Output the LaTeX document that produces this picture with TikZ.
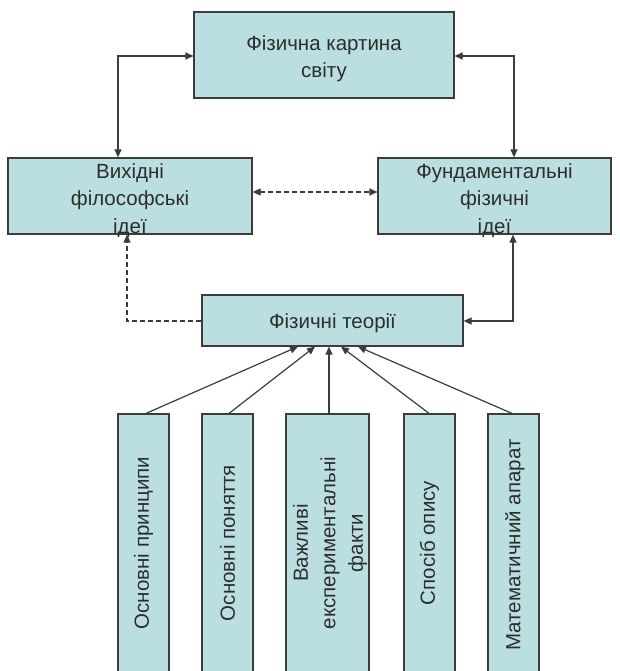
\documentclass[tikz,border=0pt]{standalone}
\usepackage{fontspec}
\setmainfont{Liberation Sans}
\usetikzlibrary{arrows.meta}
\definecolor{boxfill}{RGB}{187,223,225}
\definecolor{boxline}{RGB}{60,60,60}
\definecolor{txt}{RGB}{45,45,45}
\tikzset{
  box/.style={draw=boxline, fill=boxfill, line width=1.2pt, inner sep=0pt, anchor=center},
  lbl/.style={align=center, text=txt, font=\fontsize{20.5}{27.5}\selectfont, inner sep=0pt, anchor=center},
  conn/.style={draw=boxline, line width=1.2pt, arrows={-Triangle[length=8pt,width=7pt]}},
  conn2/.style={draw=boxline, line width=1.2pt, arrows={Triangle[length=8pt,width=7pt]-Triangle[length=8pt,width=7pt]}},
  dsh/.style={dash pattern=on 5pt off 3pt}
}
\begin{document}
\begin{tikzpicture}[x=1pt,y=-1pt]
\useasboundingbox (0,0) rectangle (619,671);
\clip (0,0) rectangle (619,671);
\node[box, minimum width=260pt, minimum height=86pt] (top) at (324,55) {};
\node[box, minimum width=244pt, minimum height=76pt] (lb) at (130,196) {};
\node[box, minimum width=233pt, minimum height=76pt] (rb) at (494.5,196) {};
\node[box, minimum width=261pt, minimum height=51pt] (mid) at (332.5,320.5) {};
\node[box, minimum width=51pt, minimum height=258pt] (b1) at (143.5,543) {};
\node[box, minimum width=51pt, minimum height=258pt] (b2) at (227.5,543) {};
\node[box, minimum width=83pt, minimum height=258pt] (b3) at (327.5,543) {};
\node[box, minimum width=51pt, minimum height=258pt] (b4) at (429.5,543) {};
\node[box, minimum width=51pt, minimum height=258pt] (b5) at (513.5,543) {};
\node[lbl] (topt) at ([yshift=-3.5pt]top.center) {Фізична картина\\світу};
\node[lbl] (lbt) at ([yshift=-4.5pt]lb.center) {Вихідні\\філософські\\ідеї};
\node[lbl] (rbt) at ([yshift=-4.5pt]rb.center) {Фундаментальні\\фізичні\\ідеї};
\node[lbl] (midt) at ([yshift=-3pt]mid.center) {Фізичні теорії};
\node[lbl, rotate=90] (t1) at (b1) {Основні принципи};
\node[lbl, rotate=90] (t2) at (b2) {Основні поняття};
\node[lbl, rotate=90] (t3) at (330,543) {Важливі\\експериментальні\\факти};
\node[lbl, rotate=90] (t4) at (b4) {Спосіб опису};
\node[lbl, rotate=90] (t5) at (515,545) {Математичний апарат};
% top connections
\coordinate (lt) at (118,56);
\coordinate (rt) at (514,56);
\draw[conn2] (top.west |- lt) -- (lt) -- (lt |- lb.north);
\draw[conn2] (top.east |- rt) -- (rt) -- (rt |- rb.north);
% dashed between side boxes
\draw[conn2, dsh] ([yshift=4pt]lb.east) -- ([yshift=4pt]rb.west);
% dashed from mid to left box
\coordinate (ml) at (127,321);
\draw[conn, dsh] (mid.west |- ml) -- (ml) -- (ml |- lb.south);
% solid from right box to mid
\coordinate (mr) at (513,321);
\draw[conn2] (mr |- rb.south) -- (mr) -- (mid.east |- mr);
% bottom arrows
\draw[conn] ([xshift=2.5pt]b1.north) -- ([xshift=-34.5pt]mid.south);
\draw[conn] ([xshift=1.5pt]b2.north) -- ([xshift=-17.5pt]mid.south);
\draw[conn] ([xshift=1.5pt]b3.north) -- ([xshift=-3.5pt]mid.south);
\draw[conn] ([xshift=-0.5pt]b4.north) -- ([xshift=8.5pt]mid.south);
\draw[conn] ([xshift=-1.5pt]b5.north) -- ([xshift=25.5pt]mid.south);
\end{tikzpicture}
\end{document}
